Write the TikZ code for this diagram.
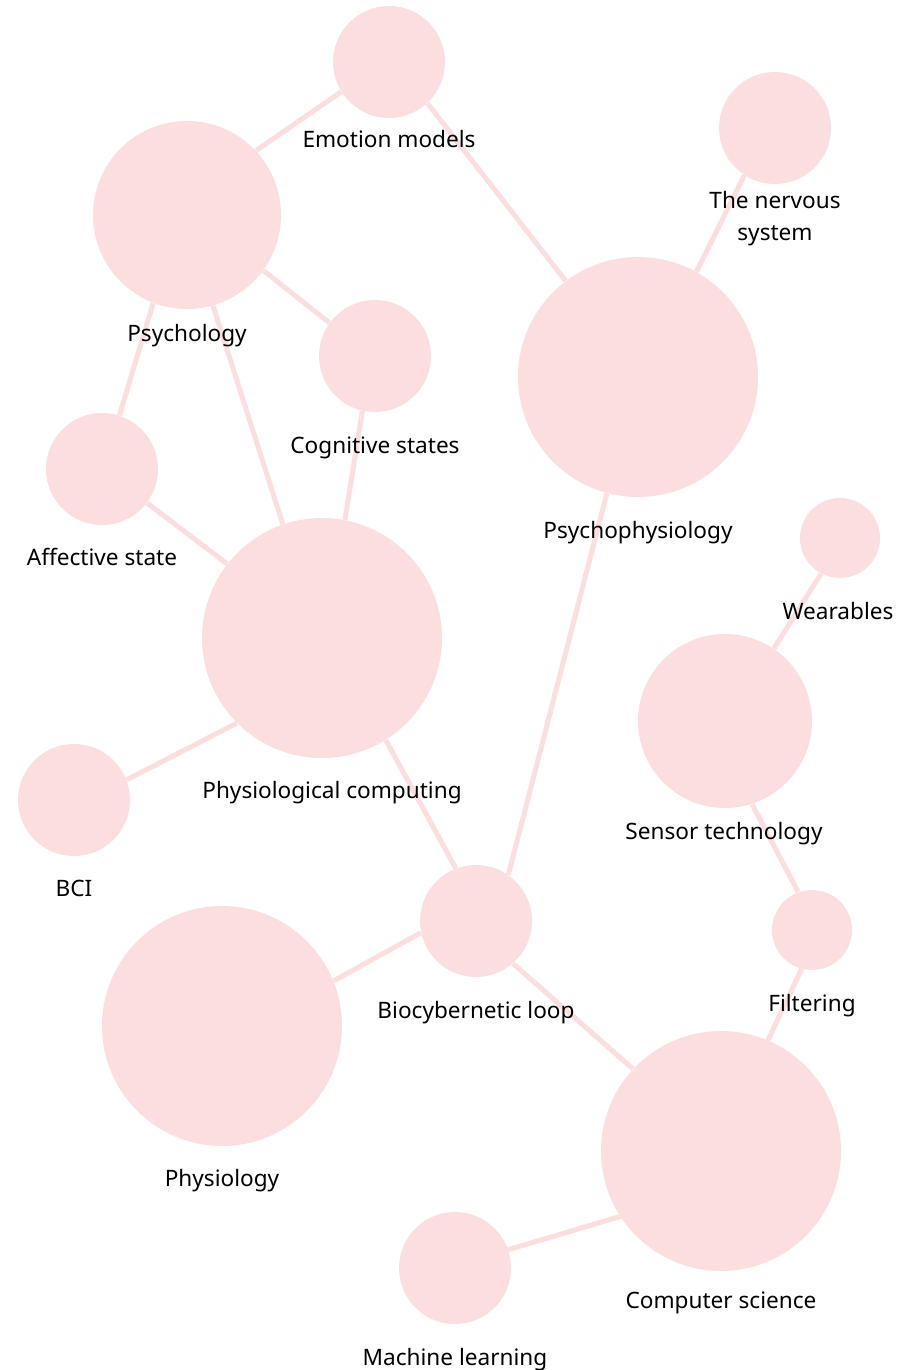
\documentclass[tikz,border=0pt]{standalone}
\usepackage{fontspec}
\setmainfont{Noto Sans}
\usetikzlibrary{backgrounds}
\definecolor{blob}{RGB}{253,222,222}
\tikzset{topic/.style={circle, fill=blob, inner sep=0pt, minimum size=#1*0.5pt},
         tag/.style={anchor=base, align=center, font=\fontsize{11.3}{16}\selectfont},
         link/.style={draw=blob, line width=2.5pt, shorten <=-3pt, shorten >=-3pt}}

\begin{document}
\begin{tikzpicture}[x=0.5pt, y=-0.5pt]
\useasboundingbox (0,0) rectangle (918,1370);
% circles, diameters in pixels
\node[topic=112] (emo) at (389,62) {};
\node[topic=188] (psy) at (187,215) {};
\node[topic=112] (ner) at (775,128) {};
\node[topic=112] (cog) at (375,356) {};
\node[topic=240] (pph) at (638,377) {};
\node[topic=112] (aff) at (102,469) {};
\node[topic=80] (wea) at (840,538) {};
\node[topic=240] (pco) at (322,638) {};
\node[topic=174] (sen) at (725,721) {};
\node[topic=112] (bci) at (74,800) {};
\node[topic=112] (bio) at (476,921) {};
\node[topic=80] (fil) at (812,930) {};
\node[topic=240] (phy) at (222,1026) {};
\node[topic=240] (cs) at (721,1151) {};
\node[topic=112] (ml) at (455,1268) {};
% labels
\node[tag] (emoT) at (389,148) {Emotion models};
\node[tag] (psyT) at (187,341) {Psychology};
\node[tag] (nerT) at (775,240) {The nervous\\system};
\node[tag] (cogT) at (375,453) {Cognitive states};
\node[tag] (pphT) at (638,538) {Psychophysiology};
\node[tag] (affT) at (102,565) {Affective state};
\node[tag] (weaT) at (838,619) {Wearables};
\node[tag] (pcoT) at (332,798) {Physiological computing};
\node[tag] (senT) at (724,839) {Sensor technology};
\node[tag] (bciT) at (74,896) {BCI};
\node[tag] (bioT) at (476,1018) {Biocybernetic loop};
\node[tag] (filT) at (812,1011) {Filtering};
\node[tag] (phyT) at (222,1186) {Physiology};
\node[tag] (csT) at (721,1308) {Computer science};
\node[tag] (mlT) at (455,1365) {Machine learning};
% links behind the circles
\begin{scope}[on background layer]
\path[link] (emo.212) -- (psy.43)
            (emo.313) -- (pph.127)
            (ner.237) -- (pph.61)
            (psy.324) -- (cog.144)
            (psy.249) -- (aff.72)
            (psy.286) -- (pco.109)
            (cog.257) -- (pco.79)
            (aff.323) -- (pco.142)
            (pco.225) -- (bci.21)
            (pco.302) -- (bio.111)
            (pph.255) -- (bio.55)
            (wea.242) -- (sen.56)
            (sen.288) -- (fil.110)
            (fil.255) -- (cs.67)
            (bio.192) -- (phy.22)
            (bio.311) -- (cs.137)
            (cs.213) -- (ml.19);
\end{scope}
\end{tikzpicture}
\end{document}
